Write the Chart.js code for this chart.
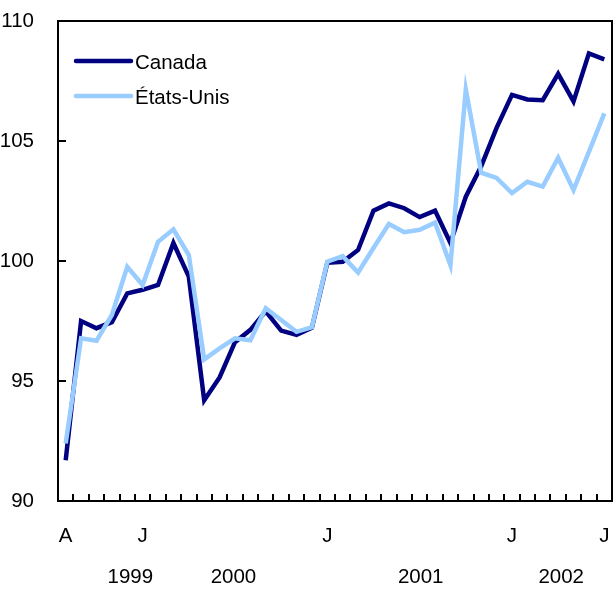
<!DOCTYPE html>
<html>
<head>
<meta charset="utf-8">
<script src="https://cdn.jsdelivr.net/npm/chart.js@4/dist/chart.umd.min.js"></script>
<style>
  html, body { margin: 0; padding: 0; background: #fff; overflow: hidden; }
  canvas { display: block; }
</style>
</head>
<body>
<canvas id="chartCanvas" width="614" height="596"></canvas>
<script>
// --- data (index, monthly) ---
const months = ["A", "S", "O", "N", "D", "J", "F", "M", "A", "M", "J", "J",
                "A", "S", "O", "N", "D", "J", "F", "M", "A", "M", "J", "J",
                "A", "S", "O", "N", "D", "J", "F", "M", "A", "M", "J", "J"];
const shownMonths = [0, 5, 17, 29, 35];
const years = ["1999", "2000", "2001", "2002"];

const canada = [91.7, 97.5, 97.2, 97.45, 98.65, 98.8, 99.0, 100.75, 99.35, 94.2,
                95.15, 96.62, 97.13, 97.9, 97.1, 96.92, 97.22, 99.93, 99.97, 100.46,
                102.1, 102.4, 102.2, 101.83, 102.1, 100.75, 102.68, 103.95, 105.55, 106.92,
                106.73, 106.7, 107.8, 106.65, 108.65, 108.4];
const etatsUnis = [92.4, 96.78, 96.68, 97.75, 99.76, 99.0, 100.8, 101.32, 100.25, 95.9,
                   96.36, 96.78, 96.7, 98.03, 97.54, 97.05, 97.24, 99.97, 100.2, 99.52,
                   100.54, 101.54, 101.2, 101.3, 101.6, 99.83, 107.15, 103.68, 103.46, 102.83,
                   103.3, 103.1, 104.3, 102.96, 104.55, 106.15];

const NAVY = "#000080";
const LIGHT = "#99ccff";
const FONT = "Liberation Sans, Arial, sans-serif";
const FONT_SIZE = 20.5;

// frame, inward ticks, year row and legend
const decorations = {
  id: "decorations",
  afterDraw(chart) {
    const { ctx, chartArea: a, scales: { x, y } } = chart;
    ctx.save();
    ctx.strokeStyle = "#000";

    // inward ticks on the x axis, between months
    ctx.lineWidth = 2;
    for (let i = 0; i < months.length - 1; i++) {
      const px = Math.round((x.getPixelForValue(i) + x.getPixelForValue(i + 1)) / 2);
      ctx.beginPath();
      ctx.moveTo(px, a.bottom);
      ctx.lineTo(px, a.bottom - 7);
      ctx.stroke();
    }
    // inward ticks on the y axis
    [95, 100, 105].forEach(v => {
      const py = Math.round(y.getPixelForValue(v));
      ctx.beginPath();
      ctx.moveTo(a.left, py);
      ctx.lineTo(a.left + 8, py);
      ctx.stroke();
    });

    // frame
    ctx.lineWidth = 2;
    ctx.strokeRect(a.left, a.top, a.right - a.left, a.bottom - a.top);

    // year row
    ctx.fillStyle = "#000";
    ctx.font = FONT_SIZE + "px " + FONT;
    ctx.textAlign = "center";
    ctx.textBaseline = "middle";
    const yearAt = [4.2, 10.9, 23.07, 32.2];
    years.forEach((yr, i) => ctx.fillText(yr, x.getPixelForValue(yearAt[i]), 577));

    // legend
    const items = [["Canada", NAVY, 61], ["États-Unis", LIGHT, 96]];
    ctx.textAlign = "left";
    items.forEach(([label, color, ly]) => {
      ctx.strokeStyle = color;
      ctx.lineWidth = 4.5;
      ctx.lineCap = "round";
      ctx.beginPath();
      ctx.moveTo(76, ly);
      ctx.lineTo(131, ly);
      ctx.stroke();
      ctx.fillText(label, 135, ly + 2);
    });
    ctx.restore();
  }
};

new Chart(document.getElementById("chartCanvas"), {
  type: "line",
  data: {
    labels: months,
    datasets: [
      { label: "Canada", data: canada, borderColor: NAVY, borderWidth: 4.5, order: 1 },
      { label: "États-Unis", data: etatsUnis, borderColor: LIGHT, borderWidth: 4.5, order: 0 }
    ]
  },
  options: {
    responsive: false,
    animation: false,
    devicePixelRatio: 1,
    layout: { padding: { top: 21, right: 2, left: 0, bottom: 0 } },
    elements: { point: { radius: 0 }, line: { tension: 0, borderJoinStyle: "miter" } },
    plugins: { legend: { display: false }, tooltip: { enabled: false } },
    scales: {
      x: {
        type: "category",
        offset: true,
        grid: { display: false },
        border: { display: false },
        ticks: {
          autoSkip: false,
          maxRotation: 0,
          padding: 15,
          color: "#000",
          font: { family: FONT, size: FONT_SIZE },
          callback: (v, i) => shownMonths.includes(i) ? months[i] : ""
        },
        // fixed box, no extra side padding from the tick labels
        afterFit: s => { s.height = 95; s.paddingLeft = 0; s.paddingRight = 0; }
      },
      y: {
        min: 90,
        max: 110,
        grid: { display: false },
        border: { display: false },
        ticks: {
          stepSize: 5,
          padding: 16,
          color: "#000",
          font: { family: FONT, size: FONT_SIZE }
        },
        afterFit: s => { s.width = 58; s.paddingTop = 0; s.paddingBottom = 0; }
      }
    }
  },
  plugins: [decorations]
});
</script>
</body>
</html>
